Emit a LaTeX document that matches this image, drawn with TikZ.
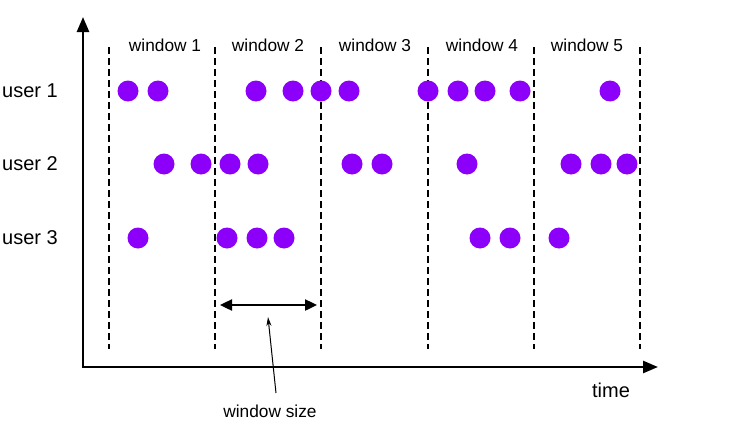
\documentclass[tikz,border=0pt]{standalone}
\usepackage{fontspec}
\setmainfont{Liberation Sans}
\usetikzlibrary{arrows.meta}
\definecolor{dotc}{HTML}{8C00FA}
\begin{document}
\begin{tikzpicture}[x=1pt,y=-1pt,
  evt/.style={circle,fill=dotc,draw=none,minimum size=21pt,inner sep=0pt},
  winline/.style={line width=2pt,dash pattern=on 7pt off 4pt},
  axis/.style={line width=2.6pt,-{Triangle[length=15pt,width=12pt]}},
  wlabel/.style={font=\fontsize{17.3}{20}\selectfont},
  ulabel/.style={font=\fontsize{20}{23}\selectfont,anchor=west,inner sep=0pt},
  sizearrow/.style={line width=2.4pt,{Triangle[length=12pt,width=11pt]}-{Triangle[length=12pt,width=11pt]}},
  pointer/.style={line width=1pt,-{Stealth[length=9pt,width=5pt]}}]
\useasboundingbox (0,0) rectangle (739,439);
% axes
\coordinate (o) at (83,367);
\coordinate (ytip) at (83,17);
\coordinate (xtip) at (658,367);
\draw[axis] (o) -- (ytip);
\draw[axis] ([xshift=-1.3pt]o) -- (xtip);
% window boundaries
\foreach \i/\x in {0/109,1/215,2/321,3/428,4/534,5/640}{
  \coordinate (t\i) at (\x,47);
  \coordinate (b\i) at (\x,349);
  \draw[winline] (t\i) -- (b\i);
}
% window labels
\node[wlabel] (w1) at (165,45) {window 1};
\node[wlabel] (w2) at (268,45) {window 2};
\node[wlabel] (w3) at (375,45) {window 3};
\node[wlabel] (w4) at (482,45) {window 4};
\node[wlabel] (w5) at (587,45) {window 5};
% user labels
\node[ulabel] (u1) at (2,91) {user 1};
\node[ulabel] (u2) at (2,164) {user 2};
\node[ulabel] (u3) at (2,238) {user 3};
% events
\foreach \x [count=\k] in {128,158,256,293,321,349,428,458,485,520,610}
  \node[evt] (ea\k) at (\x,91) {};
\foreach \x [count=\k] in {164,201,230,258,352,382,467,571,601,627}
  \node[evt] (eb\k) at (\x,164) {};
\foreach \x [count=\k] in {138,227,257,284,480,510,559}
  \node[evt] (ec\k) at (\x,238) {};
% window size
\coordinate (sl) at (220,305);
\coordinate (sr) at (317,305);
\draw[sizearrow] (sl) -- (sr);
\node[wlabel] (ws) at (270,411) {window size};
\coordinate (pt) at (268,317);
\draw[pointer] (276,393) -- (pt);
% time
\node[font=\fontsize{20}{23}\selectfont] (time) at (611,390) {time};
\end{tikzpicture}
\end{document}
